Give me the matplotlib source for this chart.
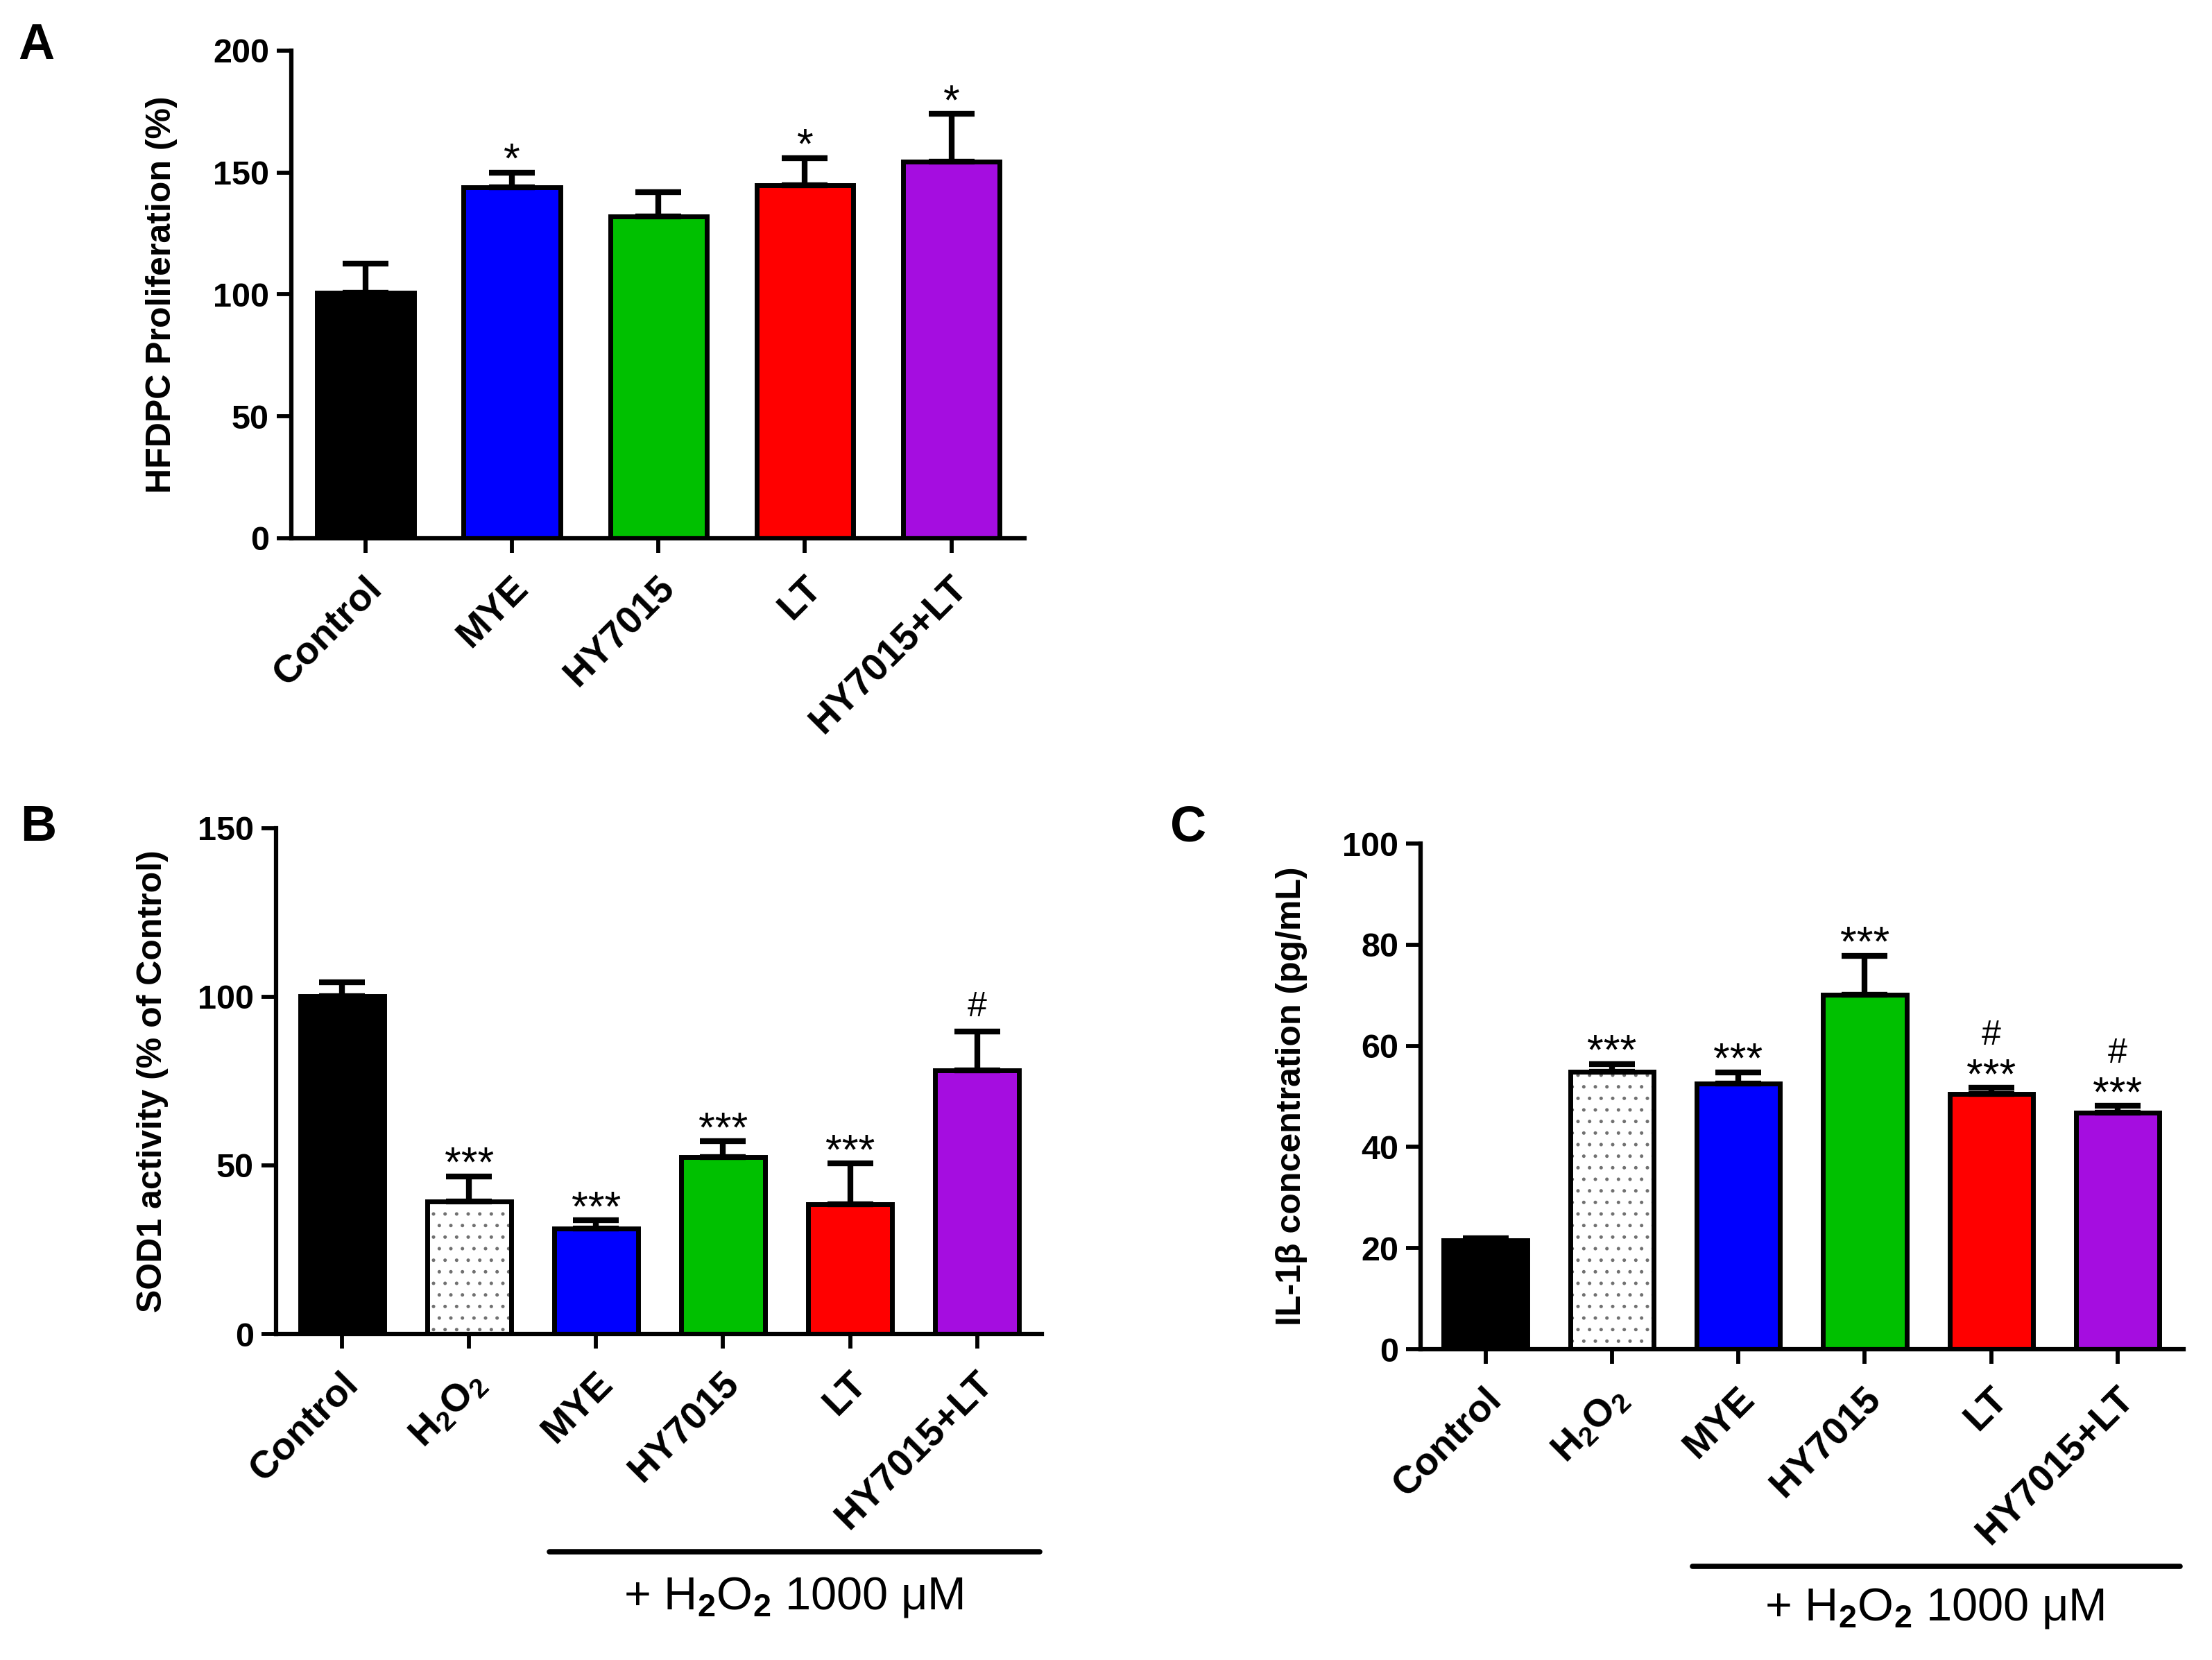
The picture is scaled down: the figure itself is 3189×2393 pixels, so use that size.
import matplotlib
matplotlib.use('Agg')
import numpy as np
import matplotlib.pyplot as plt
import matplotlib.transforms as mtransforms
from matplotlib.lines import Line2D

plt.rcParams['font.family'] = ['Liberation Sans', 'DejaVu Sans']
plt.rcParams['font.weight'] = 'bold'
plt.rcParams['mathtext.fontset'] = 'custom'
plt.rcParams['mathtext.rm'] = 'Liberation Sans'
plt.rcParams['mathtext.bf'] = 'Liberation Sans:bold'
plt.rcParams['mathtext.it'] = 'Liberation Sans:italic'
plt.rcParams['hatch.linewidth'] = 1.2

# Panel A - HFDPC proliferation
a_groups = ['Control', 'MYE', 'HY7015', 'LT', 'HY7015+LT']
a_means = [100.7, 144.0, 131.8, 144.6, 154.5]
a_errs = [12.0, 6.0, 10.0, 11.3, 19.5]
a_stars = ['', '*', '', '*', '*']
a_hash = ['', '', '', '', '']

# Panel B - SOD1 activity
b_groups = ['Control', r'H$_\mathbf{2}$O$_\mathbf{2}$', 'MYE', 'HY7015', 'LT', 'HY7015+LT']
b_means = [100.2, 39.2, 31.2, 52.5, 38.5, 78.1]
b_errs = [4.1, 7.5, 2.5, 4.6, 12.0, 11.6]
b_stars = ['', '***', '***', '***', '***', '']
b_hash = ['', '', '', '', '', '#']

# Panel C - IL-1beta
c_groups = b_groups
c_means = [21.6, 54.9, 52.6, 70.1, 50.5, 46.8]
c_errs = [0.3, 1.5, 2.2, 7.7, 1.2, 1.3]
c_stars = ['', '***', '***', '***', '***', '***']
c_hash = ['', '', '', '', '#', '#']

a_colors = ['black', '#0000FF', '#00C000', '#FF0000', '#A50DE0']
bc_colors = ['black', 'white', '#0000FF', '#00C000', '#FF0000', '#A50DE0']
bc_hatch = [None, '.', None, None, None, None]

fig = plt.figure(figsize=(31.89, 23.93), dpi=100)


def draw_panel(rect, groups, means, errs, stars, hashes, colors, hatches,
               ylim, yticks, ylabel, xlim, label_x):
    ax = fig.add_axes(rect)
    x = np.arange(len(groups))
    bars = ax.bar(x, means, width=0.66, color=colors, edgecolor='black',
                  linewidth=5, zorder=2)
    for b, h in zip(bars, hatches):
        if h:
            # grey dots underneath, black outline on top
            b.set_edgecolor('#707070')
            b.set_hatch(h)
            b.set_linewidth(0)
            ax.bar(b.get_x() + b.get_width() / 2, b.get_height(), width=0.66,
                   fill=False, edgecolor='black', linewidth=5, zorder=2.5)
    ax.errorbar(x, means, yerr=[np.zeros(len(x)), errs], fmt='none',
                ecolor='black', elinewidth=6, capsize=24, capthick=6, zorder=3)

    for xi, m, e, s, h in zip(x, means, errs, stars, hashes):
        top = m + e
        if s:
            ax.annotate(s, (xi, top), xytext=(0, 0), textcoords='offset points',
                        ha='center', va='baseline', fontsize=44,
                        fontweight='normal')
            if h:
                ax.annotate(h, (xi, top), xytext=(0, 45), textcoords='offset points',
                            ha='center', va='baseline', fontsize=36,
                            fontweight='normal')
        elif h:
            ax.annotate(h, (xi, top), xytext=(0, 16), textcoords='offset points',
                        ha='center', va='baseline', fontsize=36,
                        fontweight='normal')

    ax.set_xlim(*xlim)
    ax.set_ylim(*ylim)
    ax.set_yticks(yticks)
    ax.set_xticks(x)
    ax.set_xticklabels(groups, rotation=45, ha='right', va='top',
                       rotation_mode='anchor', fontsize=40, fontweight='bold')
    for lab in ax.get_yticklabels():
        lab.set_fontsize(35)
        lab.set_fontweight('bold')
    ax.spines['top'].set_visible(False)
    ax.spines['right'].set_visible(False)
    for sp in ['left', 'bottom']:
        ax.spines[sp].set_linewidth(4.5)
    ax.tick_params(axis='both', direction='out', length=15, width=4.2)
    ax.tick_params(axis='y', pad=8)
    ax.tick_params(axis='x', pad=18)
    shift = mtransforms.ScaledTranslation(-2 / 72, 0, fig.dpi_scale_trans)
    for lab in ax.get_xticklabels():
        lab.set_transform(lab.get_transform() + shift)
    ax.set_ylabel(ylabel, fontsize=36, fontweight='bold')
    ax.yaxis.set_label_coords(label_x, 0.5)
    return ax


draw_panel([0.1317, 0.6758, 0.3315, 0.2938], a_groups, a_means, a_errs,
           a_stars, a_hash, a_colors, [None] * 5, (0, 200),
           [0, 50, 100, 150, 200], 'HFDPC Proliferation (%)',
           (-0.506, 4.50), -0.155)

draw_panel([0.1248, 0.1964, 0.3462, 0.3048], b_groups, b_means, b_errs,
           b_stars, b_hash, bc_colors, bc_hatch, (0, 150),
           [0, 50, 100, 150], 'SOD1 activity (% of Control)',
           (-0.52, 5.51), -0.14)

draw_panel([0.6422, 0.1872, 0.3449, 0.3046], c_groups, c_means, c_errs,
           c_stars, c_hash, bc_colors, bc_hatch, (0, 100),
           [0, 20, 40, 60, 80, 100], 'IL-1β concentration (pg/mL)',
           (-0.513, 5.52), -0.148)

# panel letters
fig.text(0.0082, 0.9645, 'A', fontsize=52, fontweight='bold', va='baseline')
fig.text(0.0091, 0.4935, 'B', fontsize=52, fontweight='bold', va='baseline')
fig.text(0.529, 0.4935, 'C', fontsize=52, fontweight='bold', va='baseline')

# treatment bars
treat = r'+ H$_\mathrm{2}$O$_\mathrm{2}$ 1000 μM'
fig.add_artist(Line2D([0.2484, 0.4700], [0.0652, 0.0652], transform=fig.transFigure,
                      lw=5.5, color='black', solid_capstyle='round'))
fig.text(0.3587, 0.038, treat, fontsize=48, fontweight='normal',
         ha='center', va='center')
fig.add_artist(Line2D([0.7651, 0.9856], [0.0564, 0.0564], transform=fig.transFigure,
                      lw=5.5, color='black', solid_capstyle='round'))
fig.text(0.8746, 0.0313, treat, fontsize=48, fontweight='normal',
         ha='center', va='center')

fig.savefig('out.png', dpi=100)
